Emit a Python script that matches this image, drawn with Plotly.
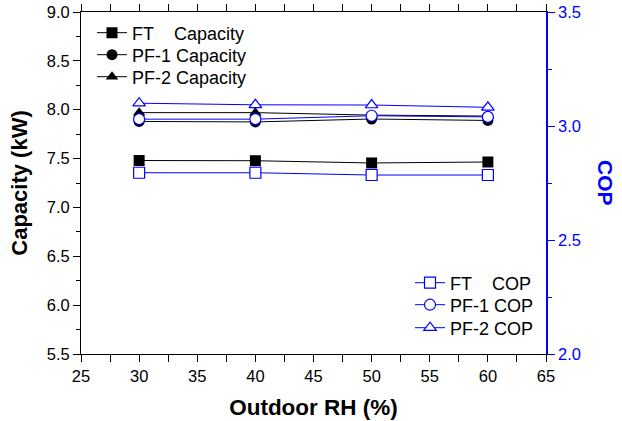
import plotly.graph_objects as go

rh = [30, 40, 50, 60]
ft_cap = [7.48, 7.478, 7.455, 7.465]
pf1_cap = [7.88, 7.875, 7.905, 7.89]
pf2_cap = [7.97, 7.97, 7.945, 7.935]
ft_cop = [2.795, 2.795, 2.785, 2.785]
pf1_cop = [3.03, 3.03, 3.045, 3.04]
pf2_cop = [3.10, 3.093, 3.092, 3.082]

cap_names = ["FT\u00a0\u00a0\u00a0\u00a0Capacity", "PF-1 Capacity", "PF-2 Capacity"]
cop_names = ["FT\u00a0\u00a0\u00a0\u00a0COP", "PF-1 COP", "PF-2 COP"]

BLUE = "#0000FF"
FONT = "Liberation Sans, Arial, sans-serif"
TICK = 16.5
LEG = 18

W, H = 622, 421
PL, PT, PR, PB = 81, 12, 546, 354   # plot area in pixels
PW, PH = PR - PL, PB - PT

def py(y_px):
    return (PB - y_px) / PH

def px(x_px):
    return (x_px - PL) / PW

fig = go.Figure()

cap_rows = [33, 55, 77]
cop_rows = [283, 305, 328]
legend_ids = ["legend", "legend2", "legend3", "legend4", "legend5", "legend6"]

for i, (name, ys, sym) in enumerate(zip(cap_names, [ft_cap, pf1_cap, pf2_cap], ["square", "circle", "triangle-up"])):
    fig.add_trace(go.Scatter(
        x=rh, y=ys, name=name, mode="lines+markers",
        line=dict(color="black", width=1),
        marker=dict(symbol=sym, size=11, color="black"),
        xaxis="x", yaxis="y", legend=legend_ids[i]))

for i, (name, ys, sym) in enumerate(zip(cop_names, [ft_cop, pf1_cop, pf2_cop], ["square", "circle", "triangle-up"])):
    fig.add_trace(go.Scatter(
        x=rh, y=ys, name=name, mode="lines+markers",
        line=dict(color=BLUE, width=1),
        marker=dict(symbol=sym, size=11, color="white", line=dict(color=BLUE, width=1.2)),
        xaxis="x", yaxis="y2", legend=legend_ids[3 + i]))

tickfont = dict(family=FONT, size=TICK, color="black")

legends = {}
for i, lid in enumerate(legend_ids):
    if i < 3:
        xl, yc = 92, cap_rows[i]
    else:
        xl, yc = 410, cop_rows[i - 3]
    legends[lid] = dict(
        x=px(xl), y=py(yc), xanchor="left", yanchor="middle",
        bgcolor="rgba(0,0,0,0)", borderwidth=0,
        font=dict(family=FONT, size=LEG, color="black"))

fig.update_layout(
    width=W, height=H,
    margin=dict(l=PL, r=W - PR, t=PT, b=H - PB),
    paper_bgcolor="white", plot_bgcolor="white",
    font=dict(family=FONT, size=TICK, color="black"),
    xaxis=dict(
        range=[25, 65], dtick=5, tick0=25, showgrid=False, zeroline=False, automargin=False,
        showline=True, linecolor="black", linewidth=1, ticklabeloverflow="allow",
        mirror="allticks",
        ticks="outside", ticklen=7, tickcolor="black", tickwidth=1,
        minor=dict(ticks="outside", dtick=2.5, tick0=25, ticklen=4, tickcolor="black", showgrid=False),
        tickfont=tickfont,
        title=dict(text="<b>Outdoor RH (%)</b>", font=dict(family=FONT, size=22.5, color="black"), standoff=15),
    ),
    yaxis=dict(
        range=[5.5, 9.0], dtick=0.5, tick0=5.5, tickformat=".1f", showgrid=False, zeroline=False,
        automargin=False, ticklabeloverflow="allow",
        showline=True, linecolor="black", linewidth=1,
        ticks="outside", ticklen=7, tickcolor="black",
        minor=dict(ticks="outside", dtick=0.25, tick0=5.5, ticklen=4, tickcolor="black", showgrid=False),
        tickfont=tickfont,
        title=dict(text="<b>Capacity (kW)</b>", font=dict(family=FONT, size=22, color="black"), standoff=13),
    ),
    yaxis2=dict(
        range=[2.0, 3.5], dtick=0.5, tick0=2.0, tickformat=".1f", overlaying="y", side="right",
        automargin=False, ticklabeloverflow="allow",
        showgrid=False, zeroline=False, showline=True, linecolor=BLUE, linewidth=1.5,
        ticks="outside", ticklen=7, tickcolor=BLUE,
        minor=dict(ticks="outside", dtick=0.25, tick0=2.0, ticklen=4, tickcolor=BLUE, showgrid=False),
        tickfont=dict(family=FONT, size=TICK, color=BLUE),
    ),
    annotations=[dict(
        text="<b>COP</b>", xref="paper", yref="paper", x=px(606), y=0.5,
        showarrow=False, textangle=90, font=dict(family=FONT, size=21, color=BLUE),
        xanchor="center", yanchor="middle")],
    showlegend=True,
    **legends,
)

fig.write_html("out.html", config={"displayModeBar": False},
               post_script="document.body.style.margin='0';")
